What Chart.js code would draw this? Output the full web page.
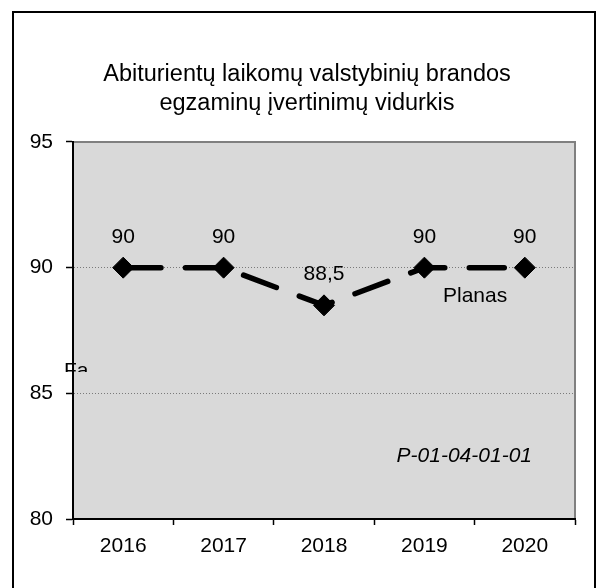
<!DOCTYPE html>
<html><head><meta charset="utf-8">
<script src="https://cdn.jsdelivr.net/npm/chart.js@4/dist/chart.umd.min.js"></script>
<style>html,body{margin:0;padding:0;background:#fff;}#wrap{width:608px;height:588px;}</style>
</head><body><div id="wrap"><canvas id="c" width="608" height="588"></canvas></div>
<script>
const categories = ['2016', '2017', '2018', '2019', '2020'];
const planValues = [90, 90, 88.5, 90, 90];
const yTicks = [80, 85, 90, 95];
const titleLines = ['Abiturientų laikomų valstybinių brandos', 'egzaminų įvertinimų vidurkis'];
const seriesName = 'Planas';
const codeLabel = 'P-01-04-01-01';
const clippedLabel = 'Fa';

const FONT = "'Liberation Sans', Arial, sans-serif";
const fmt = v => String(v).replace('.', ',');

const framePlugin = {
  id: 'frame',
  beforeDraw(chart) {
    const {ctx, chartArea: a} = chart;
    ctx.save();
    ctx.fillStyle = '#fff';
    ctx.fillRect(0, 0, chart.width, chart.height);
    ctx.strokeStyle = '#000';
    ctx.lineWidth = 2;
    ctx.strokeRect(13, 12, 582, 640);
    ctx.fillStyle = '#D9D9D9';
    ctx.fillRect(a.left, a.top, a.right - a.left, a.bottom - a.top);
    ctx.strokeStyle = '#808080';
    ctx.lineWidth = 2;
    ctx.beginPath();
    ctx.moveTo(a.left, a.top);
    ctx.lineTo(a.right, a.top);
    ctx.lineTo(a.right, a.bottom);
    ctx.stroke();
    ctx.restore();
  }
};

const labelPlugin = {
  id: 'labels',
  afterDatasetsDraw(chart) {
    const {ctx} = chart;
    const meta = chart.getDatasetMeta(0);
    ctx.save();
    ctx.font = '21px ' + FONT;
    ctx.fillStyle = '#000';
    ctx.textAlign = 'center';
    ctx.textBaseline = 'alphabetic';
    meta.data.forEach((pt, i) => {
      ctx.fillText(fmt(planValues[i]), pt.x, pt.y - 25);
    });
    ctx.restore();
  },
  afterDraw(chart) {
    const {ctx} = chart;
    ctx.save();
    ctx.fillStyle = '#000';
    ctx.textBaseline = 'alphabetic';
    ctx.font = '21px ' + FONT;
    ctx.textAlign = 'left';
    ctx.fillText(seriesName, 443, 301.5);
    ctx.font = 'italic 21px ' + FONT;
    ctx.textAlign = 'right';
    ctx.fillText(codeLabel, 532, 462);
    ctx.beginPath();
    ctx.rect(0, 0, 200, 372);
    ctx.clip();
    ctx.font = '21px ' + FONT;
    ctx.textAlign = 'left';
    ctx.fillText(clippedLabel, 64, 377);
    ctx.restore();
  }
};

new Chart(document.getElementById('c'), {
  type: 'line',
  data: {
    labels: categories,
    datasets: [{
      label: seriesName,
      data: planValues,
      yAxisID: 'y',
      borderColor: '#000',
      borderWidth: 5.5,
      borderDash: [35, 24.5],
      borderDashOffset: -2.75,
      borderCapStyle: 'round',
      pointStyle: 'rectRot',
      pointRadius: 10.5,
      pointBackgroundColor: '#000',
      pointBorderColor: '#000',
      pointBorderWidth: 1,
      tension: 0,
      clip: false
    }]
  },
  options: {
    responsive: false,
    animation: false,
    devicePixelRatio: 1,
    layout: {padding: {left: 6, right: 0, top: 0, bottom: 0}},
    plugins: {
      legend: {display: false},
      tooltip: {enabled: false},
      title: {
        display: true,
        text: titleLines,
        color: '#000',
        font: {family: FONT, size: 23.5, weight: 'normal', lineHeight: 1.234},
        padding: {top: 60.5, bottom: 23.5}
      }
    },
    scales: {
      x: {
        type: 'category',
        offset: true,
        grid: {offset: true, drawOnChartArea: false, tickLength: 6, tickColor: '#000', tickWidth: 1.5},
        border: {color: '#000', width: 2},
        ticks: {color: '#000', font: {family: FONT, size: 21}, padding: 9, maxRotation: 0, autoSkip: false},
        afterFit: s => { s.height = 69; }
      },
      y: {
        position: 'left',
        min: 80, max: 95,
        afterBuildTicks: s => { s.ticks = yTicks.map(v => ({value: v})); },
        grid: {
          color: c => (c.tick && (c.tick.value === 85 || c.tick.value === 90)) ? '#7a7a7a' : 'rgba(0,0,0,0)',
          tickColor: '#000', tickLength: 7, tickWidth: 1.5, lineWidth: 1
        },
        border: {color: '#000', width: 2, dash: [1, 2]},
        ticks: {color: '#000', font: {family: FONT, size: 21}, padding: 13},
        afterFit: s => { s.width = 67; }
      },
      yR: {
        position: 'right',
        display: true,
        grid: {display: false, drawTicks: false},
        border: {display: false},
        ticks: {display: false},
        afterFit: s => { s.width = 33; }
      }
    }
  },
  plugins: [framePlugin, labelPlugin]
});
</script>
</body></html>
